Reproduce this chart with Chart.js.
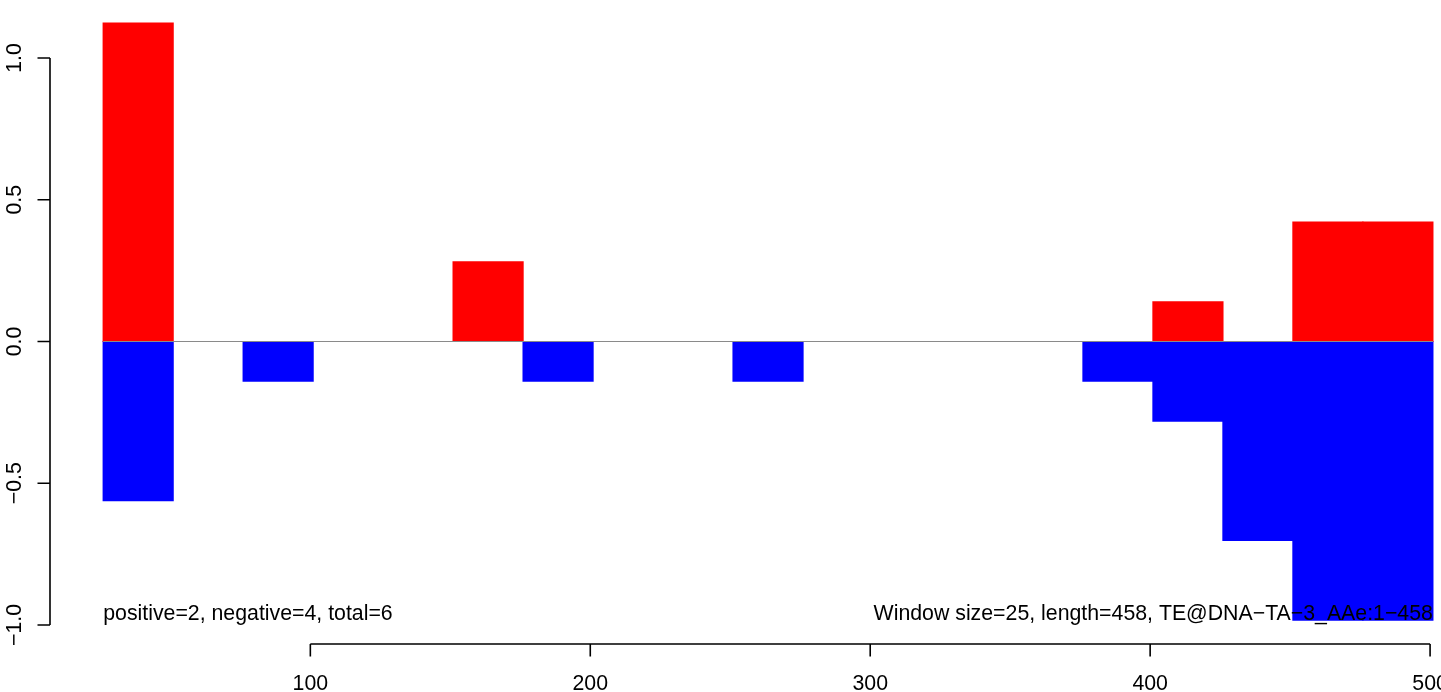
<!DOCTYPE html>
<html>
<head>
<meta charset="utf-8">
<script src="https://cdn.jsdelivr.net/npm/chart.js@4.4.1/dist/chart.umd.min.js"></script>
<style>
    html, body { margin: 0; padding: 0; background: #fff; overflow: hidden; }
    #chart { display: block; }
</style>
</head>
<body>
<canvas id="chart" width="1441" height="692"></canvas>
<script>
// Ventanas de 25 pb (inicio de cada ventana)
const windowStarts = [26, 51, 76, 101, 126, 151, 176, 201, 226, 251, 276, 301, 326, 351, 376, 401, 426, 451, 476];
const windowSize = 25;

// Valores por ventana (0 = sin barra)
const positiveValues = [1.123, 0, 0, 0, 0, 0.281, 0, 0, 0, 0, 0, 0, 0, 0, 0, 0.140, 0, 0.421, 0.421];
const negativeValues = [-0.561, 0, -0.140, 0, 0, 0, -0.140, 0, 0, -0.140, 0, 0, 0, 0, -0.140, -0.281, -0.702, -0.983, -0.983];

// Ejes
const xTicks = [100, 200, 300, 400, 500];
const xTickLabels = ['100', '200', '300', '400', '500'];
const yTicks = [-1, -0.5, 0, 0.5, 1];
const yTickLabels = ['\u22121.0', '\u22120.5', '0.0', '0.5', '1.0'];

// Textos
const leftNote = 'positive=2, negative=4, total=6';
const rightNote = 'Window size=25, length=458, TE@DNA\u2212TA\u22123_AAe:1\u2212458';

const FONT = '21.3px "Liberation Sans", Arial, sans-serif';

function toPoints(values) {
    return windowStarts.map((s, i) => ({ x: s + windowSize / 2, y: values[i] === 0 ? null : values[i] }));
}

const firstX = windowStarts[0];
const lastX = windowStarts[windowStarts.length - 1] + windowSize;

// Ejes estilo R + notas
const rAxes = {
    id: 'rAxes',
    afterDatasetsDraw(chart) {
        const ctx = chart.ctx;
        const x = chart.scales.x;
        const y = chart.scales.y;
        const area = chart.chartArea;
        const tick = 12.5;

        ctx.save();
        ctx.strokeStyle = '#000';
        ctx.fillStyle = '#000';
        ctx.lineWidth = 1.6;
        ctx.font = FONT;

        // eje x
        const xb = area.bottom;
        ctx.beginPath();
        ctx.moveTo(x.getPixelForValue(xTicks[0]), xb);
        ctx.lineTo(x.getPixelForValue(xTicks[xTicks.length - 1]), xb);
        xTicks.forEach(v => {
            const px = x.getPixelForValue(v);
            ctx.moveTo(px, xb);
            ctx.lineTo(px, xb + tick);
        });
        ctx.stroke();
        ctx.textAlign = 'center';
        ctx.textBaseline = 'alphabetic';
        xTicks.forEach((v, i) => {
            ctx.fillText(xTickLabels[i], x.getPixelForValue(v), xb + 46);
        });

        // eje y
        const yl = area.left;
        ctx.beginPath();
        ctx.moveTo(yl, y.getPixelForValue(yTicks[0]));
        ctx.lineTo(yl, y.getPixelForValue(yTicks[yTicks.length - 1]));
        yTicks.forEach(v => {
            const py = y.getPixelForValue(v);
            ctx.moveTo(yl, py);
            ctx.lineTo(yl - tick, py);
        });
        ctx.stroke();
        yTicks.forEach((v, i) => {
            ctx.save();
            ctx.translate(yl - 29, y.getPixelForValue(v));
            ctx.rotate(-Math.PI / 2);
            ctx.fillText(yTickLabels[i], 0, 0);
            ctx.restore();
        });

        // notas al pie
        const ny = y.getPixelForValue(Math.min(...negativeValues));
        ctx.textAlign = 'left';
        ctx.fillText(leftNote, x.getPixelForValue(firstX), ny);
        ctx.textAlign = 'right';
        ctx.fillText(rightNote, x.getPixelForValue(lastX), ny);
        ctx.restore();
    }
};

new Chart(document.getElementById('chart'), {
    type: 'bar',
    data: {
        datasets: [
            {
                type: 'line',
                label: 'zero',
                data: [{ x: firstX, y: 0 }, { x: lastX, y: 0 }],
                borderColor: '#8a8a8a',
                borderWidth: 1.2,
                pointRadius: 0,
                order: 0
            },
            {
                label: 'positive',
                data: toPoints(positiveValues),
                backgroundColor: '#ff0000',
                borderWidth: 0,
                inflateAmount: 0.6,
                barPercentage: 1,
                categoryPercentage: 1,
                order: 1
            },
            {
                label: 'negative',
                data: toPoints(negativeValues),
                backgroundColor: '#0000ff',
                borderWidth: 0,
                inflateAmount: 0.6,
                barPercentage: 1,
                categoryPercentage: 1,
                order: 1
            }
        ]
    },
    options: {
        responsive: false,
        animation: false,
        devicePixelRatio: 1,
        layout: { padding: { left: 50, right: 0, top: 0, bottom: 48 } },
        scales: {
            x: {
                type: 'linear',
                min: 7,
                max: 503.9,
                offset: false,
                stacked: true,
                display: false,
                afterBuildTicks: s => { s.ticks = xTicks.map(v => ({ value: v })); }
            },
            y: {
                min: -1.067,
                max: 1.2046,
                stacked: true,
                display: false,
                afterBuildTicks: s => { s.ticks = yTicks.map(v => ({ value: v })); }
            }
        },
        plugins: {
            legend: { display: false },
            tooltip: { enabled: false }
        }
    },
    plugins: [rAxes]
});
</script>
</body>
</html>
